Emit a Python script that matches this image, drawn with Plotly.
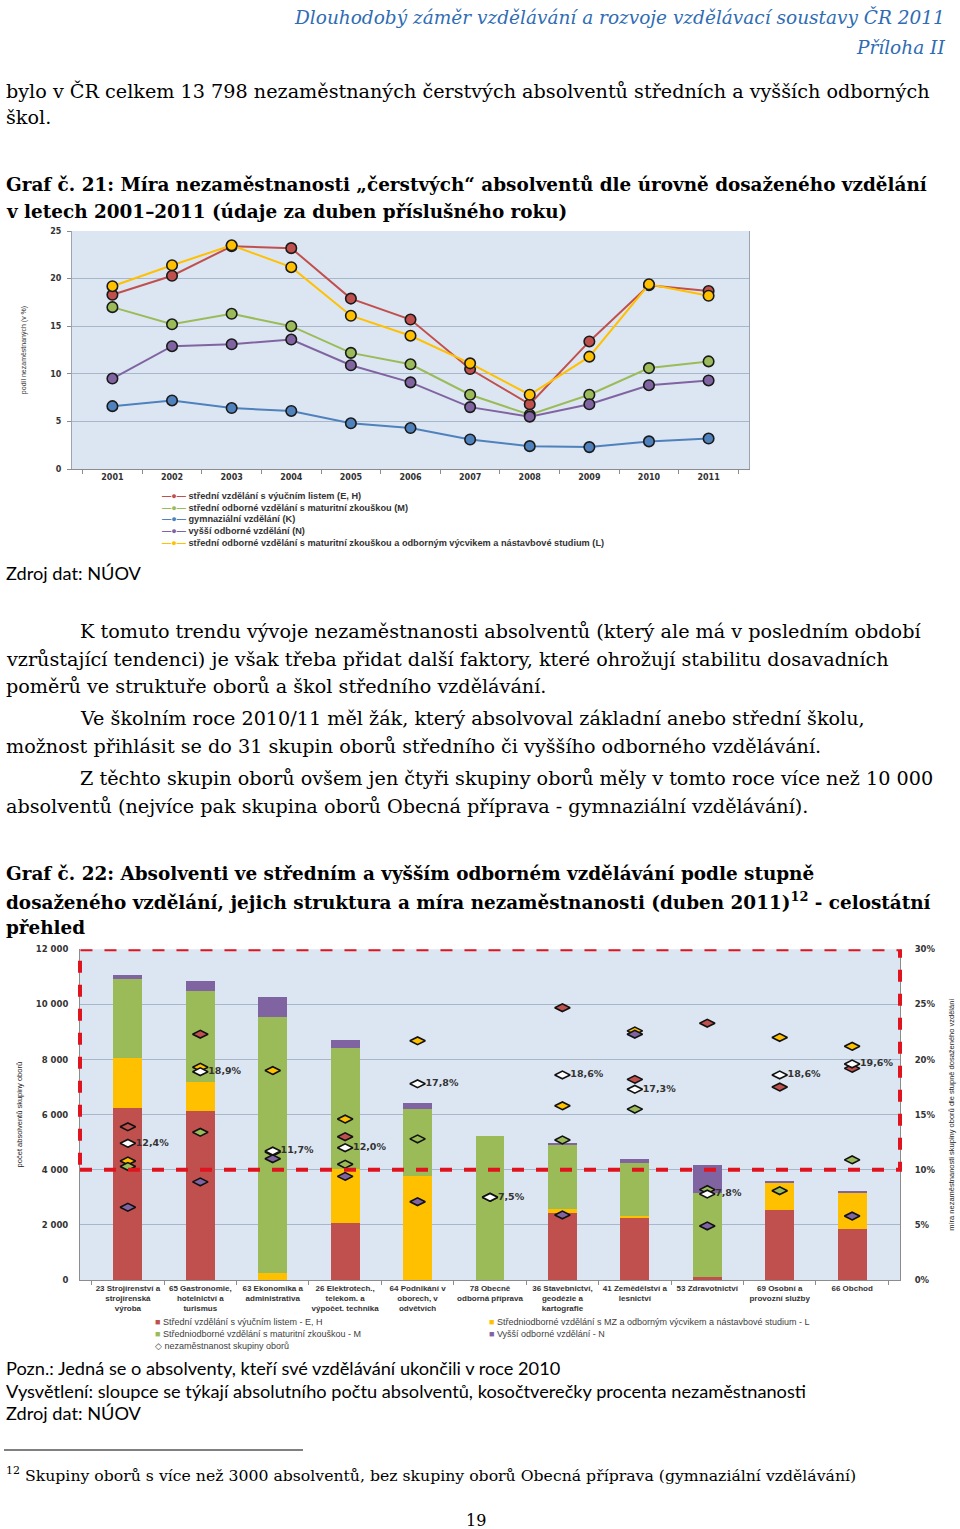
import plotly.graph_objects as go

W, H = 960, 1529


def px(x):
    return x / W


def py(y):
    return 1 - y / H


# ---------------- Chart 1 data ----------------
years = [str(y) for y in range(2001, 2012)]
eh_rate = [18.3, 20.3, 23.4, 23.2, 17.9, 15.7, 10.5, 6.8, 13.4, 19.3, 18.7]
m_rate = [17.0, 15.2, 16.3, 15.0, 12.2, 11.0, 7.8, 5.7, 7.8, 10.6, 11.3]
k_rate = [6.6, 7.2, 6.4, 6.1, 4.8, 4.3, 3.1, 2.4, 2.3, 2.9, 3.2]
n_rate = [9.5, 12.9, 13.1, 13.6, 10.9, 9.1, 6.5, 5.5, 6.8, 8.8, 9.3]
l_rate = [19.2, 21.4, 23.5, 21.2, 16.1, 14.0, 11.1, 7.8, 11.8, 19.4, 18.2]

series1_names = [
    "střední vzdělání s výučním listem (E, H)",
    "střední odborné vzdělání s maturitní zkouškou (M)",
    "gymnaziální vzdělání (K)",
    "vyšší odborné vzdělání (N)",
    "střední odborné vzdělání s maturitní zkouškou a odborným výcvikem a nástavbové studium (L)",
]

# ---------------- Chart 2 data ----------------
groups = [
    "23 Strojírenství a<br>strojírenská<br>výroba",
    "65 Gastronomie,<br>hotelnictví a<br>turismus",
    "63 Ekonomika a<br>administrativa",
    "26 Elektrotech.,<br>telekom. a<br>výpočet. technika",
    "64 Podnikání v<br>oborech, v<br>odvětvích",
    "78 Obecně<br>odborná příprava",
    "36 Stavebnictví,<br>geodézie a<br>kartografie",
    "41 Zemědělství a<br>lesnictví",
    "53 Zdravotnictví",
    "69 Osobní a<br>provozní služby",
    "66 Obchod",
]
grad_eh = [6250, 6130, 0, 2080, 0, 0, 2420, 2240, 120, 2540, 1840]
grad_l = [1800, 1070, 240, 1950, 3770, 0, 150, 90, 0, 970, 1310]
grad_m = [2860, 3290, 9290, 4400, 2420, 5220, 2330, 1900, 3050, 0, 0]
grad_n = [150, 360, 730, 280, 240, 0, 40, 160, 1010, 40, 80]

unemp_eh = [13.9, 22.3, None, 13.0, None, None, 24.7, 18.2, 23.3, 17.5, 19.2]
unemp_l = [10.8, 19.3, 19.0, 14.6, 21.7, None, 15.8, 22.6, None, 22.0, 21.2]
unemp_m = [10.3, 13.4, 11.6, 10.5, 12.8, 7.5, 12.7, 15.5, 8.2, 8.1, 10.9]
unemp_n = [6.6, 8.9, 11.0, 9.4, 7.1, None, 5.9, 22.3, 4.9, None, 5.8]
unemp_total = [12.4, 18.9, 11.7, 12.0, 17.8, 7.5, 18.6, 17.3, 7.8, 18.6, 19.6]
unemp_total_labels = ["12,4%", "18,9%", "11,7%", "12,0%", "17,8%", "7,5%",
                      "18,6%", "17,3%", "7,8%", "18,6%", "19,6%"]

RED, YEL, GRN, PUR, BLU = "#C0504D", "#FFC000", "#9BBB59", "#8064A2", "#4F81BD"
PLOTBG = "#DCE6F2"
GRID = "#A7B6C8"

fig = go.Figure()

# Chart 1 lines
for vals, col, name in [
    (eh_rate, RED, series1_names[0]),
    (m_rate, GRN, series1_names[1]),
    (k_rate, BLU, series1_names[2]),
    (n_rate, PUR, series1_names[3]),
    (l_rate, YEL, series1_names[4]),
]:
    fig.add_trace(go.Scatter(
        x=years, y=vals, name=name, mode="lines+markers",
        line=dict(color=col, width=2),
        marker=dict(size=10.5, color=col, line=dict(color="#1a1a1a", width=1.6)),
        xaxis="x", yaxis="y", showlegend=False,
    ))

# Chart 2 bars
for vals, col, name in [
    (grad_eh, RED, "Střední vzdělání s výučním listem - E, H"),
    (grad_l, YEL, "Středniodborné vzdělání s MZ a odborným výcvikem a nástavbové studium - L"),
    (grad_m, GRN, "Středniodborné vzdělání s maturitní zkouškou - M"),
    (grad_n, PUR, "Vyšší odborné vzdělání - N"),
]:
    fig.add_trace(go.Bar(
        x=groups, y=vals, name=name, marker=dict(color=col, line=dict(width=0)),
        xaxis="x2", yaxis="y2", showlegend=False,
    ))

# Chart 2 diamonds
for vals, col in [(unemp_eh, RED), (unemp_l, YEL), (unemp_m, GRN), (unemp_n, PUR)]:
    fig.add_trace(go.Scatter(
        x=groups, y=vals, mode="markers",
        marker=dict(symbol="diamond-wide", size=11, color=col,
                    line=dict(color="#111111", width=1.6)),
        xaxis="x2", yaxis="y3", showlegend=False,
    ))
fig.add_trace(go.Scatter(
    x=groups, y=unemp_total, mode="markers+text", name="nezaměstnanost skupiny oborů",
    text=unemp_total_labels, textposition="middle right",
    textfont=dict(family="DejaVu Sans", size=9.5, color="#333333", weight="bold"),
    marker=dict(symbol="diamond-wide", size=11, color="white",
                line=dict(color="#111111", width=1.6)),
    xaxis="x2", yaxis="y3", showlegend=False, cliponaxis=False,
))

tick1 = dict(family="DejaVu Sans", size=8, color="#333333", weight="bold")
tick2 = dict(family="DejaVu Sans", size=8.5, color="#333333", weight="bold")

fig.update_layout(
    width=W, height=H, margin=dict(l=0, r=0, t=0, b=0),
    paper_bgcolor="white", plot_bgcolor=PLOTBG,
    separators=", ",
    barmode="stack", bargap=0.6,
    xaxis=dict(domain=[px(72), px(749)], anchor="y", showline=True, linecolor="#8c8c8c",
               ticks="outside", tickson="boundaries", ticklen=4, tickcolor="#8c8c8c",
               tickfont=tick1, showgrid=False, automargin=False),
    yaxis=dict(domain=[py(469), py(231)], anchor="x", range=[0, 25], dtick=5,
               showline=True, mirror=True, linecolor="#9aa5b1", gridcolor=GRID,
               ticks="outside", ticklen=4, tickcolor="#8c8c8c", tickfont=tick1,
               ticklabelstandoff=4, zeroline=False, automargin=False,
               title=dict(text="podíl nezaměstnaných (v %)",
                          font=dict(family="Liberation Sans", size=7, color="#333"),
                          standoff=22)),
    xaxis2=dict(domain=[px(80), px(900)], anchor="y2", showline=True, linecolor="#8c8c8c",
                ticks="outside", tickson="boundaries", ticklen=4, tickcolor="#8c8c8c",
                tickfont=dict(family="Liberation Sans", size=8, color="#333333", weight="bold"),
                tickangle=0, showgrid=False, automargin=False),
    yaxis2=dict(domain=[py(1280), py(949.3)], anchor="x2", range=[0, 12000], dtick=2000,
                tickformat=",d", showline=True, linecolor="#8c8c8c", gridcolor=GRID,
                tickfont=tick2, ticklabelstandoff=9,
                zeroline=False, automargin=False,
                title=dict(text="počet absolventů skupiny oborů",
                           font=dict(family="Liberation Sans", size=7.5, color="#222"),
                           standoff=12)),
    yaxis3=dict(overlaying="y2", side="right", anchor="x2", range=[0, 30], dtick=5,
                ticksuffix="%", showgrid=False, showline=True, linecolor="#8c8c8c",
                tickfont=tick2, ticklabelstandoff=12,
                zeroline=False, automargin=False,
                title=dict(text="míra nezaměstnanosti skupiny oborů dle stupně dosaženého vzdělání",
                           font=dict(family="Liberation Sans", size=7.5, color="#222"),
                           standoff=14)),
)

# Dashed red frame in chart 2
fig.add_shape(type="rect", xref="x2 domain", yref="y2", x0=0, x1=1, y0=4000, y1=12000,
              line=dict(color="#E0141E", width=4, dash="dash"), layer="above")

# Footnote rule
fig.add_shape(type="line", xref="paper", yref="paper", x0=px(4), x1=px(303),
              y0=py(1450), y1=py(1450), line=dict(color="black", width=1))

ann = []


def txt(x, y, text, size=19, family="DejaVu Serif", color="black", anchor="left", **kw):
    ann.append(dict(x=px(x), y=py(y), xref="paper", yref="paper", text=text,
                    showarrow=False, xanchor=anchor, yanchor="middle",
                    font=dict(family=family, size=size, color=color, **kw)))


BODY_SZ = 19.2
HEAD_SZ = 18.4
SANS = "Lato"
SANS_SZ = 18.2
HDR = "#2F6CB3"
txt(947, 17, "<i>Dlouhodobý záměr vzdělávání a rozvoje vzdělávací soustavy ČR 2011</i>",
    size=18.5, color=HDR, anchor="right")
txt(947, 47, "<i>Příloha II</i>", size=18.5, color=HDR, anchor="right")

txt(4, 91, "bylo v ČR celkem 13 798 nezaměstnaných čerstvých absolventů středních a vyšších odborných", size=BODY_SZ)
txt(4, 118, "škol.", size=BODY_SZ)
txt(4, 184, "<b>Graf č. 21: Míra nezaměstnanosti „čerstvých“ absolventů dle úrovně dosaženého vzdělání</b>", size=HEAD_SZ)
txt(4, 211, "<b>v letech 2001–2011 (údaje za duben příslušného roku)</b>", size=HEAD_SZ)

# Chart 1 legend
leg1_cols = [RED, GRN, BLU, PUR, YEL]
for i, (name, col) in enumerate(zip(series1_names, leg1_cols)):
    txt(160, 496 + i * 11.7,
        f'<span style="color:{col}"><b>—●—</b></span> <b>{name}</b>',
        size=9.2, family="Liberation Sans", color="#333333")

txt(4, 573, "Zdroj dat: NÚOV", size=SANS_SZ, family=SANS)

txt(78, 632, "K tomuto trendu vývoje nezaměstnanosti absolventů (který ale má v posledním období", size=BODY_SZ)
txt(4, 659, "vzrůstající tendenci) je však třeba přidat další faktory, které ohrožují stabilitu dosavadních", size=BODY_SZ)
txt(4, 686, "poměrů ve struktuře oborů a škol středního vzdělávání.", size=BODY_SZ)
txt(78, 719, "Ve školním roce 2010/11 měl žák, který absolvoval základní anebo střední školu,", size=BODY_SZ)
txt(4, 746, "možnost přihlásit se do 31 skupin oborů středního či vyššího odborného vzdělávání.", size=BODY_SZ)
txt(78, 779, "Z těchto skupin oborů ovšem jen čtyři skupiny oborů měly v tomto roce více než 10 000", size=BODY_SZ)
txt(4, 806, "absolventů (nejvíce pak skupina oborů Obecná příprava - gymnaziální vzdělávání).", size=BODY_SZ)

txt(4, 874, "<b>Graf č. 22: Absolventi ve středním a vyšším odborném vzdělávání podle stupně</b>", size=HEAD_SZ)
txt(4, 901, "<b>dosaženého vzdělání, jejich struktura a míra nezaměstnanosti (duben 2011)<sup>12</sup> - celostátní</b>", size=HEAD_SZ)
txt(4, 928, "<b>přehled</b>", size=HEAD_SZ)

# Chart 2 legend
L2 = "Liberation Sans"
L2C = "#404040"
txt(153, 1322, f'<span style="color:{RED}">■</span> Střední vzdělání s výučním listem - E, H',
    size=9, family=L2, color=L2C)
txt(153, 1334, f'<span style="color:{GRN}">■</span> Středniodborné vzdělání s maturitní zkouškou - M',
    size=9, family=L2, color=L2C)
txt(153, 1346, '◇ nezaměstnanost skupiny oborů', size=9, family=L2, color=L2C)
txt(487, 1322, f'<span style="color:{YEL}">■</span> Středniodborné vzdělání s MZ a odborným výcvikem a nástavbové studium - L',
    size=9, family=L2, color=L2C)
txt(487, 1334, f'<span style="color:{PUR}">■</span> Vyšší odborné vzdělání - N',
    size=9, family=L2, color=L2C)

txt(4, 1368, "Pozn.: Jedná se o absolventy, kteří své vzdělávání ukončili v roce 2010", size=SANS_SZ, family=SANS)
txt(4, 1391, "Vysvětlení: sloupce se týkají absolutního počtu absolventů, kosočtverečky procenta nezaměstnanosti",
    size=SANS_SZ, family=SANS)
txt(4, 1413, "Zdroj dat: NÚOV", size=SANS_SZ, family=SANS)

txt(4, 1474, "<sup>12</sup> Skupiny oborů s více než 3000 absolventů, bez skupiny oborů Obecná příprava (gymnaziální vzdělávání)",
    size=15.7)
txt(476, 1520, "19", size=16, anchor="center")

fig.update_layout(annotations=ann)
fig.write_html("out.html", config={"displayModeBar": False},
               post_script="document.body.style.margin='0';document.body.style.overflow='hidden';")
